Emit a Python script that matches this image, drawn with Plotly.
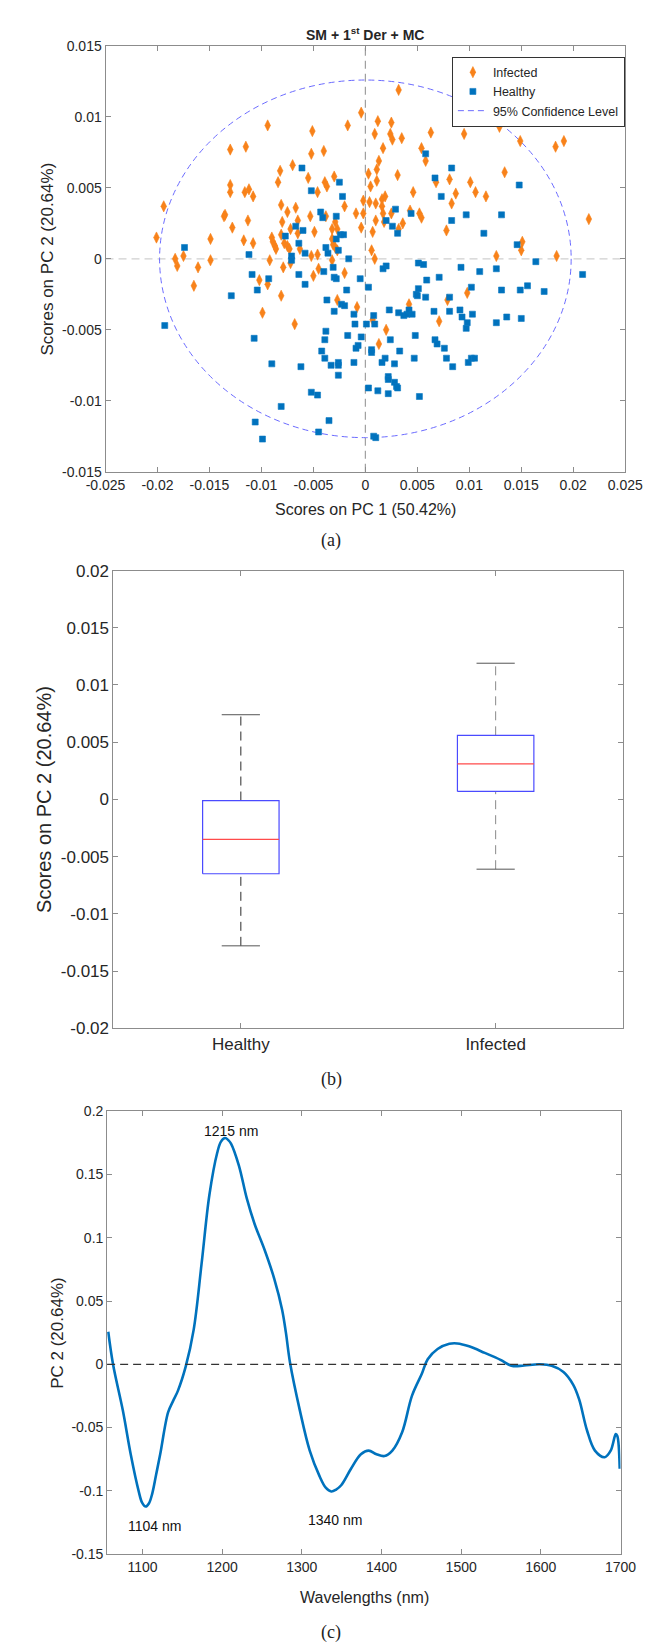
import plotly.graph_objects as go

W, H = 655, 1650
FONT = "Liberation Sans, Arial, sans-serif"
SERIF = "Liberation Serif, Times New Roman, serif"
TXT = "#262626"
AX = "#8c8c8c"

# ---------------- Panel (a) data: PCA scores ----------------
inf_pc1 = [-0.0094, -0.0130, -0.0115, -0.0084, -0.0130, -0.0130, -0.0116, -0.0112, -0.0108, -0.0194,
           -0.0136, -0.0135, -0.0128, -0.0113, -0.0201, -0.0149, -0.0117, -0.0108, -0.0090, -0.0089,
           -0.0087, -0.0086, -0.0183, -0.0181, -0.0175, -0.0161, -0.0149, -0.0092, -0.0102, -0.0094,
           -0.0165, -0.0099,
           0.0032, -0.0004, -0.0017, 0.0012, 0.0025, -0.0051, 0.0009, 0.0024, 0.0026, 0.0035,
           0.0063, -0.0040, -0.0052, 0.0017, 0.0054, 0.0058, 0.0013, 0.0011, -0.0070, -0.0082,
           0.0003, 0.0031, -0.0055, -0.0030, 0.0011, -0.0039, -0.0037, 0.0005, -0.0046, 0.0046,
           0.0068, 0.0081, 0.0083, -0.0020, -0.0081, -0.0067, -0.0002, 0.0004, 0.0010, 0.0016,
           0.0019, 0.0016, -0.0075, -0.0053, -0.0038, -0.0009, -0.0002, 0.0017, 0.0025, 0.0043,
           0.0052, 0.0054, -0.0080, -0.0065, 0.0010, 0.0018, 0.0036, -0.0072, -0.0065, -0.0049,
           -0.0032, -0.0029, -0.0027, -0.0004, 0.0007, 0.0032, 0.0078, -0.0081, -0.0078, -0.0075,
           -0.0073, -0.0063, -0.0032, -0.0031, -0.0029, -0.0027, -0.0046, -0.0052, 0.0006, 0.0009,
           -0.0032, -0.0072, -0.0079, -0.0045, -0.0050, -0.0020, -0.0081, -0.0027, -0.0008, 0.0042,
           0.0007, 0.0079, 0.0071, -0.0068, 0.0020, 0.0013,
           0.0095, 0.0129, 0.0149, 0.0183, 0.0191, 0.0134, 0.0101, 0.0106, 0.0087, 0.0116,
           0.0215, 0.0151, 0.0150, 0.0126, 0.0184, 0.0098, 0.0090]
inf_pc2 = [0.0094, 0.0077, 0.0079, 0.0054, 0.0052, 0.0047, 0.0047, 0.0049, 0.0044, 0.0037,
           0.0030, 0.0031, 0.0022, 0.0027, 0.0015, 0.0014, 0.0013, 0.0011, 0.0015, 0.0012,
           0.0009, 0.0007, 0.0000, -0.0005, 0.0002, -0.0006, -0.0001, -0.0001, -0.0015, -0.0018,
           -0.0019, -0.0038,
           0.0119, 0.0103, 0.0094, 0.0097, 0.0096, 0.0090, 0.0088, 0.0088, 0.0084, 0.0085,
           0.0089, 0.0076, 0.0074, 0.0078, 0.0078, 0.0069, 0.0069, 0.0063, 0.0066, 0.0062,
           0.0060, 0.0059, 0.0057, 0.0058, 0.0055, 0.0054, 0.0051, 0.0051, 0.0047, 0.0047,
           0.0054, 0.0056, 0.0039, 0.0037, 0.0038, 0.0036, 0.0041, 0.0040, 0.0039, 0.0042,
           0.0044, 0.0037, 0.0033, 0.0030, 0.0030, 0.0032, 0.0032, 0.0032, 0.0032, 0.0034,
           0.0032, 0.0029, 0.0026, 0.0027, 0.0027, 0.0026, 0.0025, 0.0021, 0.0018, 0.0019,
           0.0021, 0.0026, 0.0021, 0.0022, 0.0019, 0.0021, 0.0020, 0.0017, 0.0011, 0.0009,
           0.0007, 0.0007, 0.0014, 0.0010, 0.0008, 0.0006, 0.0003, 0.0002, 0.0006, 0.0000,
           -0.0001, -0.0003, -0.0006, -0.0007, -0.0012, -0.0010, -0.0026, -0.0029, -0.0034, -0.0032,
           -0.0043, -0.0029, -0.0044, -0.0046, -0.0050, -0.0060,
           0.0088, 0.0093, 0.0083, 0.0079, 0.0083, 0.0061, 0.0054, 0.0047, 0.0046, 0.0044,
           0.0028, 0.0012, 0.0006, 0.0002, 0.0002, -0.0024, 0.0102]

hea_pc1 = [-0.0174, -0.0112, -0.0109, -0.0093, -0.0104, -0.0129, -0.0193, -0.0107, -0.0090, -0.0081,
           -0.0106, -0.0099,
           0.0058, -0.0061, 0.0067, 0.0083, -0.0025, -0.0052, -0.0022, 0.0073, 0.0029, 0.0044,
           -0.0043, -0.0041, -0.0028, 0.0020, 0.0026, 0.0083, -0.0067, -0.0060, -0.0077, 0.0031,
           -0.0024, -0.0021, -0.0028, -0.0064, -0.0038, -0.0058, -0.0036, -0.0026, -0.0071, -0.0071,
           -0.0016, 0.0051, 0.0056, 0.0020, 0.0017, -0.0031, -0.0040, -0.0064, -0.0030, -0.0028,
           0.0071, 0.0059, -0.0058, -0.0005, 0.0003, -0.0018, 0.0051, 0.0049, 0.0050, 0.0058,
           0.0081, -0.0037, -0.0023, -0.0020, -0.0030, -0.0011, 0.0008, 0.0023, 0.0032, 0.0037,
           0.0040, 0.0042, 0.0045, 0.0066, 0.0081, -0.0010, 0.0001, 0.0009, -0.0038, -0.0039,
           -0.0017, -0.0004, 0.0024, 0.0048, 0.0067, 0.0069, 0.0076, -0.0007, -0.0009, -0.0042,
           0.0006, 0.0006, 0.0033, -0.0039, -0.0033, -0.0026, -0.0026, -0.0011, 0.0019, 0.0016,
           0.0028, 0.0047, 0.0078, 0.0084, -0.0062, -0.0026, 0.0022, 0.0022, 0.0028, 0.0030,
           0.0031, 0.0003, 0.0012, 0.0022, 0.0052, -0.0052, -0.0046, -0.0035, -0.0045, 0.0008,
           0.0010,
           0.0148, 0.0097, 0.0131, 0.0114, 0.0146, 0.0164, 0.0092, 0.0126, 0.0110, 0.0209,
           0.0102, 0.0156, 0.0131, 0.0149, 0.0172, 0.0091, 0.0093, 0.0103, 0.0098, 0.0097,
           0.0126, 0.0136, 0.0150, 0.0099, 0.0102, 0.0105]
hea_pc2 = [0.0008, 0.0003, -0.0011, -0.0014, -0.0022, -0.0026, -0.0047, -0.0056, -0.0074, -0.0104,
           -0.0115, -0.0127,
           0.0074, 0.0064, 0.0057, 0.0064, 0.0054, 0.0048, 0.0044, 0.0044, 0.0035, 0.0032,
           0.0033, 0.0029, 0.0030, 0.0027, 0.0023, 0.0027, 0.0023, 0.0020, 0.0016, 0.0018,
           0.0017, 0.0017, 0.0014, 0.0011, 0.0008, 0.0004, 0.0004, 0.0006, 0.0002, -0.0001,
           0.0000, -0.0003, -0.0004, -0.0005, -0.0007, -0.0006, -0.0009, -0.0011, -0.0013, -0.0014,
           -0.0013, -0.0015, -0.0018, -0.0014, -0.0020, -0.0022, -0.0021, -0.0025, -0.0026, -0.0027,
           -0.0027, -0.0029, -0.0032, -0.0033, -0.0037, -0.0039, -0.0040, -0.0036, -0.0038, -0.0040,
           -0.0039, -0.0036, -0.0039, -0.0037, -0.0037, -0.0046, -0.0046, -0.0046, -0.0051, -0.0057,
           -0.0054, -0.0055, -0.0057, -0.0054, -0.0057, -0.0060, -0.0063, -0.0061, -0.0063, -0.0065,
           -0.0064, -0.0066, -0.0065, -0.0070, -0.0075, -0.0073, -0.0075, -0.0073, -0.0070, -0.0073,
           -0.0074, -0.0070, -0.0070, -0.0076, -0.0076, -0.0082, -0.0083, -0.0085, -0.0087, -0.0090,
           -0.0091, -0.0091, -0.0093, -0.0095, -0.0097, -0.0094, -0.0096, -0.0114, -0.0122, -0.0125,
           -0.0126,
           0.0052, 0.0031, 0.0031, 0.0018, 0.0010, -0.0002, -0.0006, -0.0007, -0.0009, -0.0011,
           -0.0020, -0.0019, -0.0022, -0.0022, -0.0023, -0.0036, -0.0041, -0.0039, -0.0045, -0.0049,
           -0.0045, -0.0041, -0.0042, -0.0073, -0.0070, -0.0070]

ellipse_semi_axes = [0.0198, 0.0126]  # 95% confidence limits on PC1, PC2

a_xticks = [-0.025, -0.02, -0.015, -0.01, -0.005, 0, 0.005, 0.01, 0.015, 0.02, 0.025]
a_xticklabels = ["-0.025", "-0.02", "-0.015", "-0.01", "-0.005", "0", "0.005", "0.01", "0.015", "0.02", "0.025"]
a_yticks = [-0.015, -0.01, -0.005, 0, 0.005, 0.01, 0.015]
a_yticklabels = ["-0.015", "-0.01", "-0.005", "0", "0.005", "0.01", "0.015"]

# ---------------- Panel (b) data: box plot statistics ----------------
groups = ["Healthy", "Infected"]
box_lower = [-0.0128, -0.0061]
box_q1 = [-0.0065, 0.0007]
box_median = [-0.0035, 0.0031]
box_q3 = [-0.0001, 0.0056]
box_upper = [0.0074, 0.0119]
b_yticks = [-0.02, -0.015, -0.01, -0.005, 0, 0.005, 0.01, 0.015, 0.02]
b_yticklabels = ["-0.02", "-0.015", "-0.01", "-0.005", "0", "0.005", "0.01", "0.015", "0.02"]

# ---------------- Panel (c) data: PC2 loadings ----------------
wavelength = [1057.0, 1063.0, 1075.3, 1085.2, 1095.1, 1099.5, 1104.0, 1108.0, 1112.3, 1117.0,
              1122.2, 1132.1, 1138.0, 1144.4, 1154.3, 1164.2, 1174.1, 1184.0, 1193.8, 1198.5,
              1203.7, 1208.0, 1211.1, 1221.0, 1230.9, 1240.7, 1253.1, 1265.4, 1275.3, 1280.0,
              1285.2, 1297.5, 1309.9, 1322.2, 1330.0, 1337.0, 1343.0, 1349.4, 1361.7, 1374.1,
              1383.9, 1393.8, 1403.7, 1413.6, 1425.9, 1438.3, 1450.6, 1458.0, 1470.4, 1485.2,
              1495.1, 1509.9, 1529.6, 1549.4, 1564.2, 1579.0, 1598.8, 1613.6, 1628.4, 1640.7,
              1648.1, 1658.0, 1667.9, 1680.2, 1687.7, 1694.1, 1696.0, 1699.0]
loading = [0.0257, 0.0000, -0.0364, -0.0711, -0.1000, -0.1093, -0.1124, -0.1100, -0.1020, -0.0875,
           -0.0711, -0.0380, -0.0295, -0.0210, -0.0017, 0.0272, 0.0791, 0.1340, 0.1672, 0.1760,
           0.1788, 0.1770, 0.1745, 0.1571, 0.1311, 0.1109, 0.0907, 0.0676, 0.0430, 0.0250,
           0.0012, -0.0364, -0.0682, -0.0884, -0.0975, -0.1005, -0.0990, -0.0956, -0.0826, -0.0711,
           -0.0682, -0.0711, -0.0725, -0.0682, -0.0537, -0.0248, -0.0075, 0.0040, 0.0121, 0.0162,
           0.0165, 0.0142, 0.0090, 0.0035, -0.0014, -0.0009, 0.0000, -0.0012, -0.0061, -0.0162,
           -0.0277, -0.0523, -0.0682, -0.0734, -0.0682, -0.0552, -0.0566, -0.0826]
peak_labels = ["1215 nm", "1104 nm", "1340 nm"]
peak_label_x = [1211, 1115, 1342]
peak_label_y = [0.184, -0.128, -0.123]
c_xticks = [1100, 1200, 1300, 1400, 1500, 1600, 1700]
c_yticks = [-0.15, -0.1, -0.05, 0, 0.05, 0.1, 0.15, 0.2]
c_yticklabels = ["-0.15", "-0.1", "-0.05", "0", "0.05", "0.1", "0.15", "0.2"]

# ---------------- layout geometry (pixels) ----------------
def xdom(l, r):
    return [l / W, r / W]

def ydom(top, bottom):
    return [1 - bottom / H, 1 - top / H]

def px(x):
    return x / W

def py(y):
    return 1 - y / H

fig = go.Figure()

# Panel (a)
fig.add_trace(go.Scatter(x=inf_pc1, y=inf_pc2, mode="markers", name="Infected",
                         xaxis="x", yaxis="y",
                         marker=dict(symbol="diamond-tall", size=8, color="#F8821A",
                                     line=dict(width=0.6, color="#F8821A"))))
fig.add_trace(go.Scatter(x=hea_pc1, y=hea_pc2, mode="markers", name="Healthy",
                         xaxis="x", yaxis="y",
                         marker=dict(symbol="square", size=6, color="#0072BD",
                                     line=dict(width=0.6, color="#0a78c2"))))
fig.add_trace(go.Scatter(x=[None], y=[None], mode="lines", name="95% Confidence Level",
                         xaxis="x", yaxis="y",
                         line=dict(color="#6b6bff", width=1, dash="6px,4px")))
fig.add_shape(type="circle", xref="x", yref="y",
              x0=-ellipse_semi_axes[0], x1=ellipse_semi_axes[0],
              y0=-ellipse_semi_axes[1], y1=ellipse_semi_axes[1],
              line=dict(color="#6b6bff", width=1, dash="6px,4px"), layer="below")
fig.add_shape(type="line", xref="x", yref="y domain", x0=0, x1=0, y0=0, y1=1,
              line=dict(color="#a0a0a0", width=1.2, dash="8px,5px"), layer="below")
fig.add_shape(type="line", xref="x domain", yref="y", x0=0, x1=1, y0=0, y1=0,
              line=dict(color="#d0d0d0", width=1.2, dash="8px,5px"), layer="below")

# Panel (b): box plot drawn from statistics
half_box = 0.15
half_cap = 0.075
whisk_colors = ["#2a2a2a", "#8a8a8a"]
for i, g in enumerate(groups):
    c = i + 1
    fig.add_trace(go.Scatter(
        x=[c, c, None, c, c], y=[box_q3[i], box_upper[i], None, box_lower[i], box_q1[i]],
        mode="lines", xaxis="x2", yaxis="y2", showlegend=False,
        line=dict(color=whisk_colors[i], width=1, dash="9px,6px")))
    fig.add_trace(go.Scatter(
        x=[c - half_cap, c + half_cap, None, c - half_cap, c + half_cap],
        y=[box_upper[i], box_upper[i], None, box_lower[i], box_lower[i]],
        mode="lines", xaxis="x2", yaxis="y2", showlegend=False,
        line=dict(color="#555555", width=1)))
    fig.add_trace(go.Scatter(
        x=[c - half_box, c + half_box, c + half_box, c - half_box, c - half_box],
        y=[box_q1[i], box_q1[i], box_q3[i], box_q3[i], box_q1[i]],
        mode="lines", xaxis="x2", yaxis="y2", showlegend=False,
        line=dict(color="#4a4aff", width=1.2)))
    fig.add_trace(go.Scatter(
        x=[c - half_box, c + half_box], y=[box_median[i], box_median[i]],
        mode="lines", xaxis="x2", yaxis="y2", showlegend=False,
        line=dict(color="#ff4a4a", width=1.2)))

# Panel (c)
fig.add_shape(type="line", xref="x3 domain", yref="y3", x0=0, x1=1, y0=0, y1=0,
              line=dict(color="#333333", width=1.2, dash="8px,5px"))
fig.add_trace(go.Scatter(x=wavelength, y=loading, mode="lines", xaxis="x3", yaxis="y3",
                         showlegend=False, line=dict(color="#0072BD", width=2.6, shape="spline",
                                                     smoothing=1.0)))
for t, xx, yy in zip(peak_labels, peak_label_x, peak_label_y):
    fig.add_annotation(x=xx, y=yy, xref="x3", yref="y3", text=t, showarrow=False,
                       font=dict(family=FONT, size=14, color="#111111"))

axis_common = dict(showline=True, linecolor=AX, linewidth=1, mirror="ticks", ticks="inside",
                   ticklen=5, tickcolor=AX, showgrid=False, zeroline=False,
                   tickfont=dict(family=FONT, size=14, color=TXT))

fig.update_layout(
    width=W, height=H, autosize=False,
    margin=dict(l=0, r=0, t=0, b=0),
    paper_bgcolor="white", plot_bgcolor="white",
    font=dict(family=FONT, color=TXT),
    xaxis=dict(domain=xdom(82.3, 634), anchor="y", range=[-0.025, 0.025],
               tickmode="array", tickvals=a_xticks, ticktext=a_xticklabels, **axis_common),
    yaxis=dict(domain=ydom(29.3, 460), anchor="x", range=[-0.015, 0.015],
               tickmode="array", tickvals=a_yticks, ticktext=a_yticklabels, **axis_common),
    xaxis2=dict(domain=xdom(90.7, 631.7), anchor="y2", range=[0.5, 2.5],
                tickmode="array", tickvals=[1, 2], ticktext=groups,
                **{**axis_common, "tickfont": dict(family=FONT, size=17, color=TXT)}),
    yaxis2=dict(domain=ydom(560, 1023), anchor="x2", range=[-0.02, 0.02],
                tickmode="array", tickvals=b_yticks, ticktext=b_yticklabels,
                **{**axis_common, "tickfont": dict(family=FONT, size=17, color=TXT)}),
    xaxis3=dict(domain=xdom(84, 629), anchor="y3", range=[1055.6, 1700],
                tickmode="array", tickvals=c_xticks, **axis_common),
    yaxis3=dict(domain=ydom(1107, 1555), anchor="x3", range=[-0.15, 0.2],
                tickmode="array", tickvals=c_yticks, ticktext=c_yticklabels, **axis_common),
    legend=dict(x=px(450), y=py(40), xanchor="left", yanchor="top",
                bgcolor="white", bordercolor="#333333", borderwidth=1,
                font=dict(family=FONT, size=12.5, color=TXT), tracegroupgap=0),
)

# Titles and axis labels as annotations
ann = [
    dict(text="<b>SM + 1<sup>st</sup> Der + MC</b>", x=px(358), y=py(17), size=14),
    dict(text="Scores on PC 1 (50.42%)", x=px(358), y=py(498), size=16),
    dict(text="Scores on PC 2 (20.64%)", x=px(21), y=py(244.5), size=17, angle=-90),
    dict(text="Scores on PC 2 (20.64%)", x=px(17), y=py(792), size=20, angle=-90),
    dict(text="PC 2 (20.64%)", x=px(32), y=py(1331), size=17, angle=-90),
    dict(text="Wavelengths (nm)", x=px(357), y=py(1599), size=16),
]
for a in ann:
    fig.add_annotation(text=a["text"], x=a["x"], y=a["y"], xref="paper", yref="paper",
                       showarrow=False, textangle=a.get("angle", 0),
                       xanchor="center", yanchor="middle",
                       font=dict(family=FONT, size=a["size"], color=TXT))

for lab, yy in [("(a)", 530), ("(b)", 1075), ("(c)", 1634)]:
    fig.add_annotation(text=lab, x=px(322), y=py(yy), xref="paper", yref="paper",
                       showarrow=False, xanchor="center", yanchor="middle",
                       font=dict(family=SERIF, size=18, color="#222222"))

fig.write_html("out.html")
